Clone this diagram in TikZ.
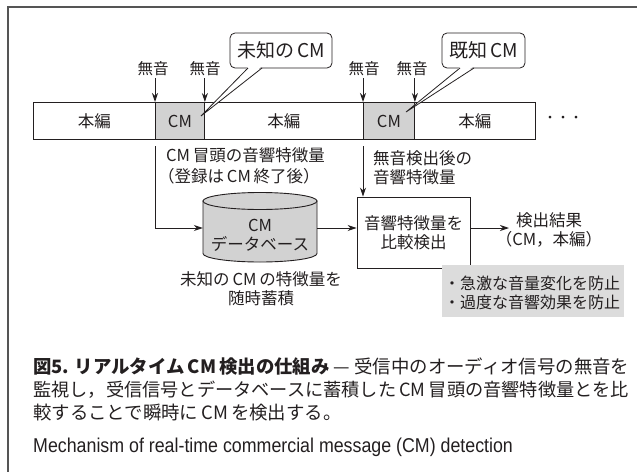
\documentclass[tikz,border=0pt]{standalone}
\usepackage{fontspec}
\setmainfont{Noto Sans CJK JP}
\newfontfamily\en{Liberation Sans}
\usetikzlibrary{arrows.meta}
\definecolor{ink}{HTML}{231F20}
\definecolor{cmgray}{HTML}{D2D2D2}
\definecolor{notegray}{HTML}{DCDCDC}
\definecolor{framegray}{HTML}{555555}
\newcommand\jg{\hspace{0.17em}}
\begin{document}
\begin{tikzpicture}[x=1pt,y=-1pt,
  every node/.style={text=ink, inner sep=0pt},
  lbl/.style={font=\fontsize{16.5}{19.5}\selectfont},
  sml/.style={font=\fontsize{15.5}{18}\selectfont},
  seg/.style={draw=ink, line width=0.9pt, minimum height=37pt, anchor=north west, font=\fontsize{16.5}{19.5}\selectfont},
  cmseg/.style={seg, fill=cmgray},
  callout/.style={draw=ink, line width=0.8pt, rounded corners=5pt, fill=white, font=\fontsize{19}{22}\selectfont},
  arr/.style={draw=ink, line width=0.9pt, -{Stealth[length=9pt,width=6pt]}},
  captext/.style={anchor=west, font=\fontsize{18.4}{22}\selectfont}
]
\useasboundingbox (0,0) rectangle (637,472);
% frame
\coordinate (fTL) at (8,7);
\coordinate (fTR) at (637,7);
\coordinate (fBL) at (8,472);
\draw[framegray, line width=1.2pt] (fTR) -- (fTL) -- (fBL);

% timeline
\node[seg, minimum width=122pt] (h1) at (33,102) {本編};
\node[cmseg, minimum width=49pt] (c1) at (155,102) {CM};
\node[seg, minimum width=159pt] (h2) at (204,102) {本編};
\node[cmseg, minimum width=51pt] (c2) at (363,102) {CM};
\node[seg, minimum width=121pt] (h3) at (414,102) {本編};
\node[font=\fontsize{13}{15}\selectfont] (dots) at (563,119) {・・・};

% silence labels
\node[sml] (m1) at (153,69) {無音};
\node[sml] (m2) at (205,69) {無音};
\node[sml] (m3) at (364,69) {無音};
\node[sml] (m4) at (412,69) {無音};
\draw[arr] (m1.south -| c1.north west) ++(0,2) -- (c1.north west);
\draw[arr] (m2.south -| c1.north east) ++(0,2) -- (c1.north east);
\draw[arr] (m3.south -| c2.north west) ++(0,2) -- (c2.north west);
\draw[arr] (m4.south -| c2.north east) ++(0,2) -- (c2.north east);

% callouts
\node[callout, minimum width=102pt, minimum height=35pt] (u1) at (281,50.5) {未知の\jg CM};
\coordinate (u1a) at (248,68);
\coordinate (u1b) at (262,68);
\coordinate (u1t) at (201,116);
\fill[white] (248.5,66.5) -- (u1t) -- (261.5,66.5) -- cycle;
\draw[ink, line width=0.8pt, line join=miter] (u1a) -- (u1t) -- (u1b);

\node[callout, minimum width=83pt, minimum height=35pt] (u2) at (483.5,50.5) {既知\jg CM};
\coordinate (u2a) at (460,68);
\coordinate (u2b) at (474,68);
\coordinate (u2t) at (406,112);
\fill[white] (460.5,66.5) -- (u2t) -- (473.5,66.5) -- cycle;
\draw[ink, line width=0.8pt, line join=miter] (u2a) -- (u2t) -- (u2b);

% left branch
\node[lbl, anchor=west] (t1) at (166,155) {CM\jg 冒頭の音響特徴量};
\node[lbl, anchor=west] (t2) at (158,176) {（登録は\jg CM\jg 終了後）};
\coordinate (b1) at (155,146);

% database cylinder
\filldraw[fill=cmgray, draw=ink, line width=0.9pt] (203,201) -- (203,253.5)
  arc[start angle=180, end angle=0, x radius=57, y radius=8.5] -- (317,201) -- cycle;
\filldraw[fill=cmgray, draw=ink, line width=0.9pt] (260,201) ellipse[x radius=57, y radius=8.5];
\node[minimum width=114pt, minimum height=69pt] (db) at (260,228) {};
\node[lbl] (dbt1) at (260,225) {CM};
\node[lbl] (dbt2) at (260,244) {データベース};
\node[lbl] (dbn1) at (261,279) {未知の\jg CM\jg の特徴量を};
\node[lbl] (dbn2) at (261,298) {随時蓄積};

\draw[arr] (b1) -- (b1 |- db.west) -- (db.west);

% compare box
\node[draw=ink, line width=0.9pt, minimum width=113pt, minimum height=71pt, align=center,
  font=\fontsize{16.5}{19}\selectfont] (cmp) at (413.5,232.5) {音響特徴量を\\比較検出};
\draw[arr] (db.east) -- (cmp.west |- db.east);
\coordinate (b2) at (363,146);
\draw[arr] (b2) -- (b2 |- cmp.north);
\node[lbl, anchor=west] (t3) at (373,158) {無音検出後の};
\node[lbl, anchor=west] (t4) at (373,177) {音響特徴量};

% result
\node[lbl] (r1) at (549,220) {検出結果};
\node[lbl] (r2) at (549,239) {（CM，本編）};
\coordinate (rarr) at (509,228);
\draw[arr] (cmp.east |- rarr) -- (rarr);

% note box
\node[fill=notegray, minimum width=182pt, minimum height=52pt, anchor=north west] (note) at (442,265) {};
\node[anchor=west, font=\fontsize{16}{19}\selectfont] (n1) at (444,283) {・急激な音量変化を防止};
\node[anchor=west, font=\fontsize{16}{19}\selectfont] (n2) at (444,302) {・過度な音響効果を防止};

% caption
\node[captext] (cap1) at (33,367) {\textbf{図5. リアルタイム\jg CM\jg 検出の仕組み} — 受信中のオーディオ信号の無音を};
\node[captext, font=\fontsize{18.2}{22}\selectfont] (cap2) at (33,390) {監視し，受信信号とデータベースに蓄積した\jg CM\jg 冒頭の音響特徴量とを比};
\node[captext] (cap3) at (33,413) {較することで瞬時に\jg CM\jg を検出する。};
\node[anchor=west, font=\en\fontsize{20}{24}\selectfont] (cap4) at (33,447) {\scalebox{0.89}[1]{Mechanism of real-time commercial message (CM) detection}};
\end{tikzpicture}
\end{document}
